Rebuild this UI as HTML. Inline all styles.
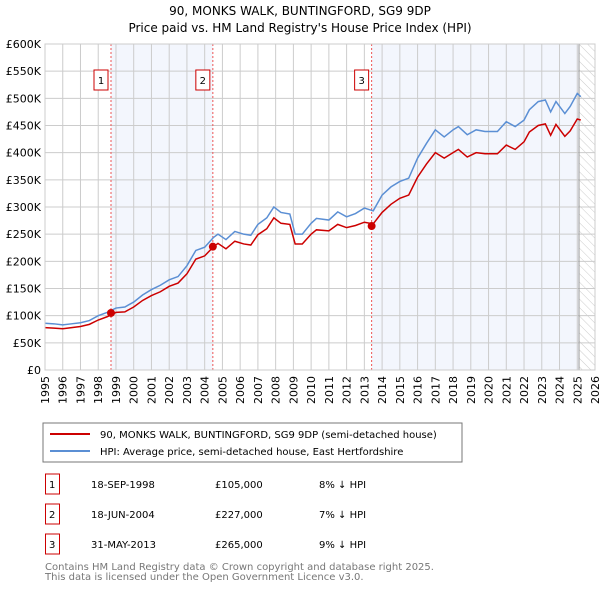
<!DOCTYPE html>
<html><head><meta charset="utf-8"><style>
body{margin:0;background:#fff;font-family:"DejaVu Sans","Liberation Sans",sans-serif;}
svg text{font-family:"DejaVu Sans","Liberation Sans",sans-serif;}
</style></head><body>
<svg id="c" width="600" height="590" viewBox="0 0 600 590" xmlns="http://www.w3.org/2000/svg">
<defs><pattern id="hatch" width="6" height="6" patternUnits="userSpaceOnUse" patternTransform="rotate(-45)"><line x1="0" y1="0" x2="0" y2="6" stroke="#ccc" stroke-width="1"/></pattern></defs>
<text x="300" y="15" text-anchor="middle" font-size="12">90, MONKS WALK, BUNTINGFORD, SG9 9DP</text>
<text x="300" y="32" text-anchor="middle" font-size="12">Price paid vs. HM Land Registry's House Price Index (HPI)</text>
<g id="plot"></g>
<rect x="43" y="423" width="419" height="39" fill="#fff" stroke="#777"/>
<line x1="50" y1="434" x2="90" y2="434" stroke="#cc0000" stroke-width="2"/>
<text x="100" y="438" font-size="10">90, MONKS WALK, BUNTINGFORD, SG9 9DP (semi-detached house)</text>
<line x1="50" y1="451" x2="90" y2="451" stroke="#5b8fd4" stroke-width="2"/>
<text x="100" y="455" font-size="10">HPI: Average price, semi-detached house, East Hertfordshire</text>
<g font-size="10" id="tbl"></g>
<text x="45" y="570" font-size="10" fill="#777">Contains HM Land Registry data © Crown copyright and database right 2025.</text>
<text x="45" y="580" font-size="10" fill="#777">This data is licensed under the Open Government Licence v3.0.</text>
</svg>
<script>
const hpiYears=[1995,1995.5,1996,1996.5,1997,1997.5,1998,1998.5,1999,1999.5,2000,2000.5,2001,2001.5,2002,2002.5,2003,2003.5,2004,2004.5,2004.75,2005.2,2005.7,2006.2,2006.6,2007,2007.5,2007.9,2008.3,2008.8,2009.1,2009.5,2010,2010.3,2011,2011.5,2012,2012.5,2013,2013.5,2014,2014.5,2015,2015.5,2016,2016.5,2017,2017.5,2018,2018.3,2018.8,2019.3,2019.8,2020.5,2021,2021.5,2022,2022.3,2022.8,2023.2,2023.5,2023.8,2024.3,2024.6,2025,2025.2];
const hpiValues=[86,85,83,85,87,91,100,106,114,116,125,138,148,156,166,172,192,220,226,244,250,240,255,250,248,268,280,300,290,287,250,250,270,279,276,291,282,288,298,293,322,337,347,353,390,417,442,429,442,448,433,442,439,439,457,448,460,479,494,497,475,494,472,485,509,503];
const ppValues=[78,77,76,78,80,84,92,98,106,107,116,128,137,144,154,160,177,204,210,227,233,223,237,232,230,249,260,280,270,268,232,232,250,258,256,268,262,266,272,269,290,305,316,322,355,379,400,390,400,406,392,400,398,398,414,406,420,438,450,453,432,452,430,440,462,460];
const sales=[{n:"1",t:1998.72,v:105,d:"18-SEP-1998",p:"£105,000",h:"8% ↓ HPI"},{n:"2",t:2004.46,v:227,d:"18-JUN-2004",p:"£227,000",h:"7% ↓ HPI"},{n:"3",t:2013.41,v:265,d:"31-MAY-2013",p:"£265,000",h:"9% ↓ HPI"}];
const yTicks=[0,50,100,150,200,250,300,350,400,450,500,550,600];
const xTicks=[1995,1996,1997,1998,1999,2000,2001,2002,2003,2004,2005,2006,2007,2008,2009,2010,2011,2012,2013,2014,2015,2016,2017,2018,2019,2020,2021,2022,2023,2024,2025,2026];
const X0=45,X1=595,Y0=370,Y1=44;
const xs=t=>X0+(t-1995)/31*(X1-X0);
const ys=v=>Y0-v/600*(Y0-Y1);
const NS="http://www.w3.org/2000/svg";
const g=document.getElementById('plot');
function mk(tag,a,par){const e=document.createElementNS(NS,tag);for(const k in a)e.setAttribute(k,a[k]);(par||g).appendChild(e);return e;}
let e;
e=mk('rect',{x:xs(sales[0].t),y:Y1,width:xs(sales[1].t)-xs(sales[0].t),height:Y0-Y1,fill:'#f3f6fd'});


e=mk('rect',{x:xs(sales[2].t),y:Y1,width:xs(2025.1)-xs(sales[2].t),height:Y0-Y1,fill:'#f3f6fd'});


e=mk('rect',{x:xs(2025.1),y:Y1,width:X1-xs(2025.1),height:Y0-Y1,fill:'url(#hatch)'});


yTicks.forEach(v=>{
 e=mk('line',{x1:X0,x2:X1,y1:ys(v),y2:ys(v),stroke:'#ccc'});
 
 
 e=mk('text',{x:X0-4,y:ys(v)+4,'text-anchor':'end','font-size':11});
 e.textContent=v===0?'£0':'£'+v+'K';
 
 
});
xTicks.forEach(t=>{
 e=mk('line',{x1:xs(t),x2:xs(t),y1:Y1,y2:Y0,stroke:'#ccc'});
 
 
 e=mk('text',{x:0,y:0,'font-size':11,'text-anchor':'end',transform:`translate(${xs(t)+4},${Y0+6}) rotate(-90)`});
 e.textContent=t;
 
 
});
e=mk('line',{x1:xs(2025.1),x2:xs(2025.1),y1:Y1,y2:Y0,stroke:'#999'});


sales.forEach(s=>{
 e=mk('line',{x1:xs(s.t),x2:xs(s.t),y1:Y1,y2:Y0,stroke:'#e55','stroke-dasharray':'2,2'});
 
 
 e=mk('rect',{x:xs(s.t)-17,y:70,width:14,height:20,fill:'#fff',stroke:'#cc0000'});
 
 
 e=mk('text',{x:xs(s.t)-10,y:84,'text-anchor':'middle','font-size':10});
 e.textContent=s.n;
 
 
});
e=mk('polyline',{points:hpiYears.map((t,i)=>xs(t)+','+ys(hpiValues[i])).join(' '),fill:'none',stroke:'#5b8fd4','stroke-width':1.5});


e=mk('polyline',{points:hpiYears.map((t,i)=>xs(t)+','+ys(ppValues[i])).join(' '),fill:'none',stroke:'#cc0000','stroke-width':1.5});


sales.forEach(s=>{
 e=mk('circle',{cx:xs(s.t),cy:ys(s.v),r:4,fill:'#cc0000'});
 
 
});
e=mk('rect',{x:X0,y:Y1,width:X1-X0,height:Y0-Y1,fill:'none',stroke:'#ccc'});


const tb=document.getElementById('tbl');
sales.forEach((s,i)=>{
 const y=483+i*30;
 e=mk('rect',{x:45.5,y:y-9,width:14,height:20,fill:'#fff',stroke:'#cc0000'},tb);
 
 
 [[49,s.n],[91,s.d],[215,s.p],[319,s.h]].forEach(([x,txt])=>{
  e=mk('text',{x:x,y:y+5},tb);
  e.textContent=txt;
  
  
 });
});
</script>
</body></html>
